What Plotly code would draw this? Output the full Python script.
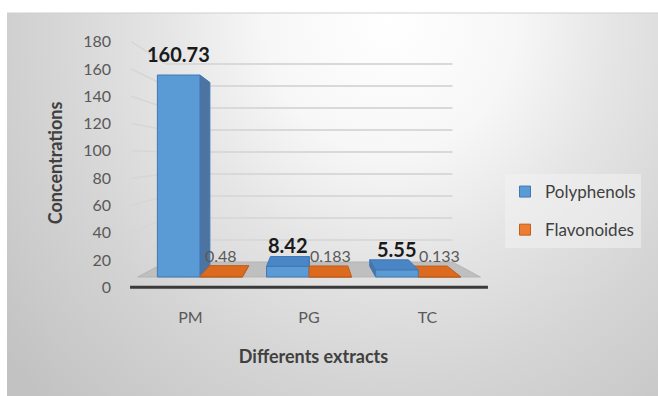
import plotly.graph_objects as go

# ---------------- data ----------------
CATEGORIES = ["PM", "PG", "TC"]
POLYPHENOLS = [160.73, 8.42, 5.55]
FLAVONOIDES = [0.48, 0.183, 0.133]
POLY_LABELS = ["160.73", "8.42", "5.55"]
FLAV_LABELS = ["0.48", "0.183", "0.133"]
Y_TICKS = [0, 20, 40, 60, 80, 100, 120, 140, 160, 180]
SERIES_NAMES = ["Polyphenols", "Flavonoides"]

# ---------------- style / 3D view parameters ----------------
W, H = 658, 396
FONT = "Lato"
# front plane mapping (pixels) used only to set axis ranges
X0PX, XSCALE = 190.5, 118.5
Y0PX, YSCALE = 287.3, 1.3644
DOM_L, DOM_R, DOM_T, DOM_B = 128, 499, 30, 296
# perspective: vanishing point in data units, depth factors
VC, VV = 1.0084, 95.6
K_FRONT, K_BACK, K_WALL = 0.921, 0.838, 0.806
BAR_W = 0.39
WALL_C = (-0.5, 2.5)
FLOOR_FRONT_C = (-0.57, 2.57)

BLUE = dict(front="#5b9bd5", top="#4a86c5", side="#4d73a0", line="#3f78b5")
ORANGE = dict(front="#ed7d31", top="#dc6a1f", side="#b45a1c", line="#c0601f")


def proj(c, v, k):
    return VC + k * (c - VC), VV + k * (v - VV)


def poly(points):
    xs = [p[0] for p in points] + [points[0][0]]
    ys = [p[1] for p in points] + [points[0][1]]
    return xs, ys


fig = go.Figure()

# ---------------- background (radial gradient) ----------------
cx, cy, rx, ry = 390, 20, 500, 530
fig.add_trace(go.Scatter(
    x=[cx - rx, cx + rx, cx + rx, cx - rx, cx - rx],
    y=[cy - ry, cy - ry, cy + ry, cy + ry, cy - ry],
    mode="lines", line=dict(width=0), fill="toself", fillcolor="#e0e0e0",
    fillgradient=dict(type="radial", colorscale=[
        [0, "#ffffff"], [0.25, "#f7f7f7"], [0.45, "#e5e5e5"],
        [0.68, "#d5d5d5"], [0.85, "#cbcbcb"], [1, "#c2c2c2"]]),
    xaxis="x", yaxis="y", hoverinfo="skip", showlegend=False))

XA, YA = "x2", "y2"

# ---------------- walls: gridlines ----------------
for v in Y_TICKS[1:]:
    x0, y0 = proj(WALL_C[0], v, 1.0)
    x1, y1 = proj(WALL_C[0], v, K_WALL)
    fig.add_trace(go.Scatter(x=[x0, x1], y=[y0, y1], mode="lines",
                             line=dict(color="#d6d6d6", width=1.5),
                             xaxis=XA, yaxis=YA, hoverinfo="skip", showlegend=False))
    x2, y2 = proj(WALL_C[1], v, K_WALL)
    fig.add_trace(go.Scatter(x=[x1, x2], y=[y1, y2], mode="lines",
                             line=dict(color="#d9d9d9", width=2),
                             xaxis=XA, yaxis=YA, hoverinfo="skip", showlegend=False))

# ---------------- floor ----------------
fl = [proj(FLOOR_FRONT_C[0], 0, K_FRONT), proj(FLOOR_FRONT_C[1], 0, K_FRONT),
      proj(WALL_C[1], 0, K_WALL), proj(WALL_C[0], 0, K_WALL)]
xs, ys = poly(fl)
fig.add_trace(go.Scatter(x=xs, y=ys, mode="lines", fill="toself", fillcolor="#bfbfbf",
                         line=dict(color="#b5b5b5", width=1),
                         xaxis=XA, yaxis=YA, hoverinfo="skip", showlegend=False))
ea, eb = proj(WALL_C[0] - 0.01, 0, 1.0), proj(WALL_C[1] + 0.01, 0, 1.0)
fig.add_trace(go.Scatter(x=[ea[0], eb[0]], y=[ea[1], eb[1]], mode="lines",
                         line=dict(color="#3a3a3a", width=3),
                         xaxis=XA, yaxis=YA, hoverinfo="skip", showlegend=False))

# ---------------- 3D bars ----------------
bars = []
for i in range(len(CATEGORIES)):
    bars.append((i - BAR_W, i, POLYPHENOLS[i], BLUE))
    bars.append((i, i + BAR_W, FLAVONOIDES[i], ORANGE))
bars.sort(key=lambda b: -abs((b[0] + b[1]) / 2 - VC))

for x0, x1, h, col in bars:
    faces = []
    if x1 < VC:
        faces.append((col["side"], [proj(x1, 0, K_FRONT), proj(x1, h, K_FRONT),
                                    proj(x1, h, K_BACK), proj(x1, 0, K_BACK)]))
    if x0 > VC:
        faces.append((col["side"], [proj(x0, 0, K_FRONT), proj(x0, h, K_FRONT),
                                    proj(x0, h, K_BACK), proj(x0, 0, K_BACK)]))
    if h < VV:
        faces.append((col["top"], [proj(x0, h, K_FRONT), proj(x1, h, K_FRONT),
                                   proj(x1, h, K_BACK), proj(x0, h, K_BACK)]))
    faces.append((col["front"], [proj(x0, 0, K_FRONT), proj(x1, 0, K_FRONT),
                                 proj(x1, h, K_FRONT), proj(x0, h, K_FRONT)]))
    for color, pts in faces:
        xs, ys = poly(pts)
        fig.add_trace(go.Scatter(x=xs, y=ys, mode="lines", fill="toself", fillcolor=color,
                                 line=dict(color=col["line"], width=1),
                                 xaxis=XA, yaxis=YA, hoverinfo="skip", showlegend=False))

# ---------------- data labels ----------------
annotations = []
for i in range(len(CATEGORIES)):
    px, py = proj(i - BAR_W / 2, POLYPHENOLS[i], K_FRONT)
    annotations.append(dict(x=px, y=py, xref="x2", yref="y2", text=POLY_LABELS[i],
                            showarrow=False, yshift=21, yanchor="middle",
                            font=dict(family=FONT, size=20, color="#1a1a1a", weight="bold")))
    px, py = proj(i + BAR_W / 2, FLAVONOIDES[i], K_FRONT)
    annotations.append(dict(x=px, y=py, xref="x2", yref="y2", text=FLAV_LABELS[i],
                            showarrow=False, yshift=21, yanchor="middle",
                            font=dict(family=FONT, size=16, color="#595959")))

# ---------------- legend entries ----------------
for name, col in zip(SERIES_NAMES, [BLUE, ORANGE]):
    fig.add_trace(go.Scatter(x=[None], y=[None], mode="markers", name=name,
                             legendgroup=name,
                             marker=dict(symbol="square", size=11, color=col["front"],
                                         line=dict(color=col["line"], width=1)),
                             xaxis=XA, yaxis=YA))

xr = [(DOM_L - X0PX) / XSCALE, (DOM_R - X0PX) / XSCALE]
yr = [(Y0PX - DOM_B) / YSCALE, (Y0PX - DOM_T) / YSCALE]

fig.update_layout(
    width=W, height=H, margin=dict(l=0, r=0, t=0, b=0),
    paper_bgcolor="#ffffff", plot_bgcolor="rgba(0,0,0,0)",
    font=dict(family=FONT, color="#595959"),
    xaxis=dict(domain=[7 / W, 1], range=[7, W], visible=False, fixedrange=True),
    yaxis=dict(domain=[0, (H - 13) / H], range=[H, 13], visible=False, fixedrange=True),
    xaxis2=dict(domain=[DOM_L / W, DOM_R / W], range=xr, anchor="y2",
                tickvals=list(range(len(CATEGORIES))), ticktext=CATEGORIES,
                showgrid=False, zeroline=False, showline=False, ticks="",
                ticklabelstandoff=10, tickfont=dict(family=FONT, size=16, color="#595959"),
                title=dict(text="Differents extracts", standoff=25,
                           font=dict(family=FONT, size=18, color="#404040", weight="bold"))),
    yaxis2=dict(domain=[(H - DOM_B) / H, (H - DOM_T) / H], range=yr, anchor="x2",
                tickvals=Y_TICKS, showgrid=False, zeroline=False, showline=False, ticks="",
                ticklabelstandoff=16, tickfont=dict(family=FONT, size=16, color="#595959"),
                title=dict(text="Concentrations", standoff=15,
                           font=dict(family=FONT, size=18, color="#404040", weight="bold"))),
    legend=dict(x=505 / W, y=(H - 174) / H, xanchor="left", yanchor="top",
                bgcolor="rgba(242,242,242,0.55)", tracegroupgap=13,
                font=dict(family=FONT, size=17, color="#404040")),
    shapes=[dict(type="line", xref="paper", yref="paper", x0=7 / W, x1=1,
                 y0=(H - 13) / H, y1=(H - 13) / H, line=dict(color="#cfcfcf", width=1))],
    annotations=annotations,
)

fig.write_html("out.html")
